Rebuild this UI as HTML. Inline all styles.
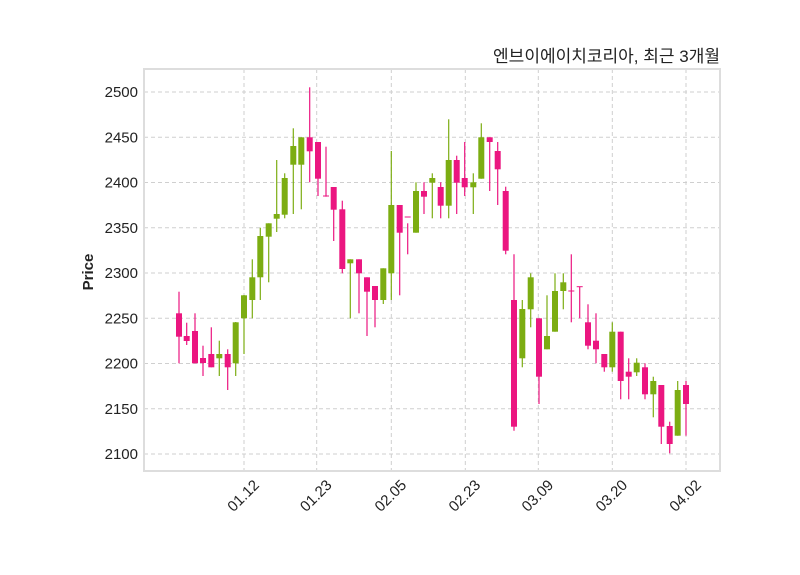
<!DOCTYPE html>
<html><head><meta charset="utf-8"><style>
body{margin:0;background:#fff;}
svg{display:block;font-family:"Liberation Sans","Noto Sans CJK KR",sans-serif;}
</style></head><body>
<svg id="s" width="800" height="575" viewBox="0 0 800 575" xmlns="http://www.w3.org/2000/svg">
<rect x="0" y="0" width="800" height="575" fill="#fff"/>
<g id="grid" stroke="#cfcfcf" stroke-width="1" stroke-dasharray="4,3"></g>
<rect x="144" y="69" width="576" height="402" fill="none" stroke="#dddddd" stroke-width="2"/>
<g id="c"></g>
<g id="yl" font-size="15" fill="#222" text-anchor="end"></g>
<g id="xl" font-size="15" fill="#222" text-anchor="end"></g>
<text x="720" y="62" font-size="17" fill="#222" text-anchor="end">엔브이에이치코리아, 최근 3개월</text>
<text transform="translate(93,272) rotate(-90)" font-size="15" font-weight="bold" fill="#222" text-anchor="middle">Price</text>
</svg>
<script>
var NS="http://www.w3.org/2000/svg";
function el(p,t,a,txt){var e=document.createElementNS(NS,t);for(var k in a)e.setAttribute(k,a[k]);if(txt)e.textContent=txt;document.getElementById(p).appendChild(e);}
for(var v=2100;v<=2500;v+=50){var y=454-(v-2100)*0.905;el("grid","line",{x1:144,x2:720,y1:y,y2:y});el("yl","text",{x:138,y:y+5},""+v);}
var xs=[244,316.7,391.3,465.3,538.3,612.3,686],lb=["01.12","01.23","02.05","02.23","03.09","03.20","04.02"];
xs.forEach(function(x,i){el("grid","line",{x1:x,x2:x,y1:69,y2:471});el("xl","text",{transform:"translate("+(x+16)+",486) rotate(-45)"},lb[i]);});
var d=[
[179,313.3,336.7,291.7,363.3,0],[186.7,336,341,322.7,345,0],[195,331,363.3,313.3,363.3,0],[203,358,363,345.7,376,0],
[211.3,354,367.3,327.3,367.3,0],[219.3,354,358.3,340.7,376,1],[227.7,354,367.3,349.3,390,0],[235.7,322.3,363.3,322,376,1],
[244,295.3,318.3,295,354,1],[252.3,277.3,300,259.3,318.3,1],[260.3,236,277.3,227.7,300,1],[268.7,223.3,236.7,223.3,282.3,1],
[276.7,214,218.7,160,232,1],[284.7,178,214.7,173.3,218.3,1],[293.3,146,164.7,128.3,214,1],[301.3,137.3,164.7,137.3,209.3,1],
[309.7,137.3,151.3,87.3,182.3,0],[318,142,178.7,142,196,0],[326,195.5,196.5,146.7,196.7,0],[333.7,187,209.7,187,241,0],
[342.3,209.3,269,200.7,273.3,0],[350.3,259.3,263.3,259.3,318.3,1],[359,259.3,273.3,259.3,313.3,0],[367,277.3,291.7,277.3,336,0],
[375,286,300,286,327.3,0],[383.3,268.3,300,268.3,304,1],[391.3,205,273.3,151,300,1],[399.7,205,232.7,205,295.3,0],
[407.7,216.5,217.5,223.3,254.3,0],[416,191,232.7,182.3,232.7,1],[424,191,196.7,182.3,214,0],[432.3,178,182.7,173.3,218.3,1],
[440.7,187,205.7,182.3,218.3,0],[448.7,160,205.7,119.3,218.3,1],[456.7,160,182.7,155.7,214,0],[464.7,178,187.3,142,196,0],
[473.3,182.3,187.3,173.3,214,1],[481.3,137.3,178.7,123.3,178.7,1],[489.7,137.3,142,137.3,191,0],[497.7,151,169.3,142,205,0],
[505.7,191,250.7,186.7,254.3,0],[514,300,426.7,254.3,430.7,0],[522.3,309,358.3,300,367.3,1],[530.7,277.3,309.3,273.3,327.3,1],
[539,318.3,376.7,318.3,404,0],[547,336,349.3,295.3,349.3,1],[555,291,331.7,273.3,331.7,1],[563.3,282.3,291,273.3,309.3,1],
[571.3,290.5,291.5,254.3,322.3,0],[579.7,286.2,287.2,286.7,318.3,0],[588,322.3,345.7,304.3,349.3,0],[596,340.7,349.3,313.3,363.3,0],
[604.3,354,367.3,354,371.7,0],[612.3,331.7,367.3,322.3,371.7,1],[620.7,331.7,381,331.7,399.3,0],[628.7,371.7,376.7,358.3,399.3,0],
[636.7,362.7,372.3,358.3,376,1],[645,367.3,394.3,363.3,399.3,0],[653.3,381,394.3,376.7,417.3,1],[661.3,385,426.7,385,444,0],
[669.7,426,444,421.7,453.3,0],[677.7,390,435.7,381,435.7,1],[686,385,404,381,435.7,0]];
d.forEach(function(c){var col=c[5]?"#7cad12":"#eb1680";
el("c","line",{x1:c[0],x2:c[0],y1:c[3],y2:c[4],stroke:col,"stroke-width":1.2});
el("c","rect",{x:c[0]-3,y:c[1],width:6,height:Math.max(1,c[2]-c[1]),fill:col});});
</script>
</body></html>
